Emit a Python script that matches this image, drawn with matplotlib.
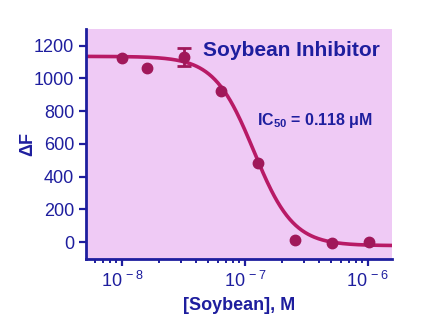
import numpy as np
import matplotlib.pyplot as plt
from matplotlib.ticker import LogLocator, NullFormatter, FixedLocator, FixedFormatter

plt.rcParams['font.family'] = ['Liberation Sans', 'DejaVu Sans']
plt.rcParams['mathtext.fontset'] = 'custom'
plt.rcParams['mathtext.rm'] = 'Liberation Sans'
plt.rcParams['mathtext.bf'] = 'Liberation Sans:bold'

# data
conc = [1.0e-8, 1.6e-8, 3.2e-8, 6.4e-8, 1.28e-7, 2.56e-7, 5.12e-7, 1.024e-6]
deltaF = [1125, 1066, 1133, 922, 481, 10, -4, 0]
erro = [0, 0, 55, 0, 0, 0, 0, 0]

xticks = [1e-8, 1e-7, 1e-6]
xlabels = ['10$^{\\,-8}$', '10$^{\\,-7}$', '10$^{\\,-6}$']

# fitted 4PL parameters
topo = 1135
base = -22
ic50 = 1.18e-7
hill = 2.7

azul = '#1E1E9E'
vinho = '#A0185A'
rosa = '#EFCAF5'

fig = plt.figure(figsize=(4.48, 3.21), dpi=100)
ax = fig.add_axes([0.192, 0.193, 0.683, 0.717])
ax.set_facecolor(rosa)

xs = np.logspace(np.log10(5.1e-9), np.log10(1.57e-6), 300)
ys = base + (topo - base) / (1 + (xs / ic50) ** hill)
ax.plot(xs, ys, color='#B81A66', lw=2.6, zorder=2)

ax.plot(conc, deltaF, 'o', color=vinho, ms=7.5, zorder=3)
comErro = [i for i in range(len(erro)) if erro[i] > 0]
ax.errorbar([conc[i] for i in comErro], [deltaF[i] for i in comErro],
            yerr=[erro[i] for i in comErro], fmt='none', ecolor=vinho,
            elinewidth=2, capsize=5, capthick=2, zorder=3)

ax.set_xscale('log')
ax.set_xlim(5.1e-9, 1.57e-6)
ax.set_ylim(-104, 1303)
ax.set_yticks([0, 200, 400, 600, 800, 1000, 1200])
ax.xaxis.set_major_locator(FixedLocator(xticks))
ax.xaxis.set_major_formatter(FixedFormatter(xlabels))
ax.xaxis.set_minor_locator(LogLocator(base=10, subs=np.arange(2, 10), numticks=10))
ax.xaxis.set_minor_formatter(NullFormatter())

for s in ['top', 'right']:
    ax.spines[s].set_visible(False)
for s in ['left', 'bottom']:
    ax.spines[s].set_color(azul)
    ax.spines[s].set_linewidth(2)

ax.tick_params(axis='both', which='major', colors=azul, width=1.6, length=5,
               labelsize=13, labelcolor=azul)
ax.tick_params(axis='x', which='minor', colors=azul, width=1.4, length=3)

ax.set_xlabel('[Soybean], M', color=azul, fontsize=13, fontweight='bold', labelpad=4)
ax.set_ylabel('ΔF', color=azul, fontsize=13, fontweight='bold', labelpad=-2)

ax.text(0.96, 0.905, 'Soybean Inhibitor', transform=ax.transAxes, ha='right',
        va='center', color=azul, fontsize=15, fontweight='bold')
ax.text(0.56, 0.60, 'IC$_{\\mathbf{50}}$ = 0.118 μM', transform=ax.transAxes,
        ha='left', va='center', color=azul, fontsize=11.5, fontweight='bold')

fig.savefig('out.png', dpi=100)
